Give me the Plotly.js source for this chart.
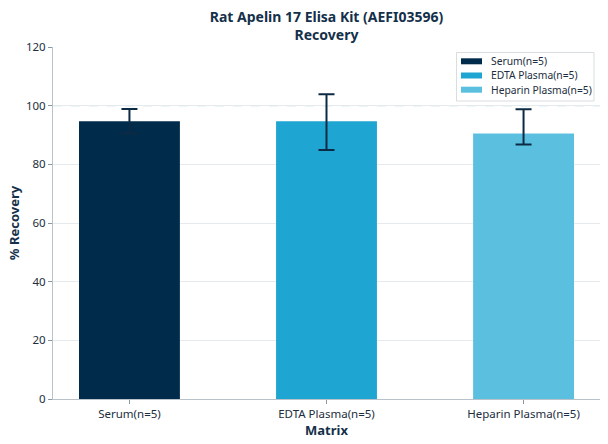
<!DOCTYPE html>
<html>
<head>
<meta charset="utf-8">
<script src="https://cdn.plot.ly/plotly-3.0.1.min.js"></script>
<style>html,body{margin:0;padding:0;background:#fff;}#chart{width:608px;height:444px;}</style>
</head>
<body>
<div id="chart"></div>
<script>
const categories = ["Serum(n=5)", "EDTA Plasma(n=5)", "Heparin Plasma(n=5)"];
const recovery = [94.7, 94.7, 90.5];
const errPlus = [4.2, 9.2, 8.3];
const errMinus = [4.2, 9.8, 3.7];
const colors = ["#002b4a", "#1ea5d2", "#5bbfe0"];
const yTicks = [0, 20, 40, 60, 80, 100, 120];
const refLine = 100;
const titleLines = ["Rat Apelin 17 Elisa Kit (AEFI03596)", "Recovery"];

const W = 608, H = 444;
const M = {l: 53, r: 8, t: 47, b: 45};
const PW = W - M.l - M.r, PH = H - M.t - M.b;
const px = x => (x - M.l) / PW;
const py = y => (H - M.b - y) / PH;

const font = "Noto Sans, Open Sans, sans-serif";

const traces = categories.map((c, i) => ({
  type: "bar",
  name: c,
  x: [i],
  y: [recovery[i]],
  width: 0.512,
  marker: {color: colors[i], line: {width: 0}},
  error_y: {type: "data", symmetric: false, array: [errPlus[i]], arrayminus: [errMinus[i]],
            color: "#0d2a45", thickness: 2, width: 8},
  hoverinfo: "skip",
  showlegend: false
}));

// legend drawn as box, swatches and labels
const shapes = [{
  type: "line", xref: "paper", x0: 0, x1: 1, yref: "y", y0: refLine, y1: refLine,
  line: {color: "#7cc4d6", width: 1, dash: "dash"}, layer: "below"
}, {
  type: "rect", xref: "paper", yref: "paper",
  x0: px(456.5), x1: px(594), y0: py(101), y1: py(52.5),
  line: {color: "#d8dde0", width: 1}, fillcolor: "rgba(255,255,255,0.9)", layer: "above"
}];
const annotations = [];
categories.forEach((c, i) => {
  const cy = 61.3 + i * 14.2;
  shapes.push({
    type: "rect", xref: "paper", yref: "paper",
    x0: px(461), x1: px(482), y0: py(cy + 3), y1: py(cy - 3),
    line: {width: 0}, fillcolor: colors[i], layer: "above"
  });
  annotations.push({
    xref: "paper", yref: "paper", x: px(489), y: py(cy), xanchor: "left", yanchor: "middle",
    text: c, showarrow: false, font: {size: 10.3, color: "#1c2e40", family: font}
  });
});

const titleText = "<b>" + titleLines.join("<br>") + "</b>";

const layout = {
  width: W, height: H,
  margin: {l: M.l, r: M.r, t: M.t, b: M.b, pad: 0},
  paper_bgcolor: "#ffffff", plot_bgcolor: "#ffffff",
  font: {family: font, color: "#1c2e40", size: 12},
  showlegend: false,
  barmode: "overlay",
  title: {text: titleText,
          xref: "paper", x: 0.5, xanchor: "center",
          yref: "container", y: 0.951, yanchor: "middle",
          font: {size: 14, color: "#15304a", family: font}},
  xaxis: {
    range: [-0.388, 2.388],
    tickmode: "array", tickvals: [0, 1, 2], ticktext: categories,
    ticks: "outside", ticklen: 4, tickcolor: "#8a96a0", tickwidth: 1,
    showline: true, linecolor: "#b8c2c8", linewidth: 1,
    showgrid: false, zeroline: false,
    tickfont: {size: 11.5, color: "#1c2e40"},
    title: {text: "<b>Matrix</b>", font: {size: 13, color: "#15304a"}, standoff: 0},
    automargin: false, fixedrange: true
  },
  yaxis: {
    range: [0, 120],
    tickmode: "array", tickvals: yTicks,
    ticks: "outside", ticklen: 4, tickcolor: "#8a96a0", tickwidth: 1,
    showline: true, linecolor: "#b8c2c8", linewidth: 1,
    showgrid: true, gridcolor: "#e6eaed", gridwidth: 1, zeroline: false,
    tickfont: {size: 11.5, color: "#1c2e40"},
    title: {text: "<b>% Recovery</b>", font: {size: 13, color: "#15304a"}, standoff: 3},
    automargin: false, fixedrange: true
  },
  shapes: shapes,
  annotations: annotations
};

Plotly.newPlot("chart", traces, layout, {displayModeBar: false, staticPlot: true});
</script>
</body>
</html>
